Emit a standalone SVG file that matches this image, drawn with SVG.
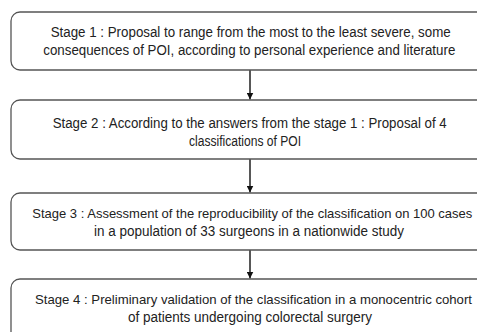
<svg xmlns="http://www.w3.org/2000/svg" width="477" height="332" viewBox="0 0 477 332">
<style>
.box{fill:#fff;stroke:#555;stroke-width:1.3}
.t{font-family:"Liberation Sans",Arial,sans-serif;font-size:14px;fill:#222}
.s{font-size:12.9px}
.c{stroke:#111;stroke-width:1.4;fill:none}
</style>
<defs>
<marker id="ah" viewBox="0 0 10 10" refX="10" refY="5" markerWidth="7" markerHeight="7" markerUnits="userSpaceOnUse" orient="auto">
<path d="M0,0 L10,5 L0,10 Z" fill="#111"/>
</marker>
</defs>
<rect width="477" height="332" fill="#fff"/>
<g id="connectors">
<line class="c" x1="250" y1="70" x2="250" y2="99.5" marker-end="url(#ah)"/>
<line class="c" x1="250" y1="159" x2="250" y2="192.5" marker-end="url(#ah)"/>
<line class="c" x1="250" y1="250" x2="250" y2="278.5" marker-end="url(#ah)"/>
</g>
<g id="stage1">
<path class="box" d="M478,12 H20 A9,9 0 0 0 11,21 V61 A9,9 0 0 0 20,70 H478"/>
<text class="t" x="50.7" y="37" textLength="400" lengthAdjust="spacingAndGlyphs">Stage 1 : Proposal to range from the most to the least severe, some</text>
<text class="t" x="43.3" y="55" textLength="412" lengthAdjust="spacingAndGlyphs">consequences of POI, according to personal experience and literature</text>
</g>
<g id="stage2">
<path class="box" d="M478,100 H20 A9,9 0 0 0 11,109 V150 A9,9 0 0 0 20,159 H478"/>
<text class="t" x="52.7" y="128" textLength="394" lengthAdjust="spacingAndGlyphs">Stage 2 : According to the answers from the stage 1 : Proposal of 4</text>
<text class="t" x="189" y="146" textLength="112" lengthAdjust="spacingAndGlyphs">classifications of POI</text>
</g>
<g id="stage3">
<path class="box" d="M478,193 H20 A9,9 0 0 0 11,202 V241 A9,9 0 0 0 20,250 H478"/>
<text class="t s" x="32.3" y="218" textLength="440" lengthAdjust="spacingAndGlyphs">Stage 3 : Assessment of the reproducibility of the classification on 100 cases</text>
<text class="t" x="94" y="236" textLength="310" lengthAdjust="spacingAndGlyphs">in a population of 33 surgeons in a nationwide study</text>
</g>
<g id="stage4">
<path class="box" d="M478,279 H20 A9,9 0 0 0 11,288 V334"/>
<text class="t s" x="35" y="304" textLength="437" lengthAdjust="spacingAndGlyphs">Stage 4 : Preliminary validation of the classification in a monocentric cohort</text>
<text class="t" x="128" y="322" textLength="244" lengthAdjust="spacingAndGlyphs">of patients undergoing colorectal surgery</text>
</g>
</svg>
